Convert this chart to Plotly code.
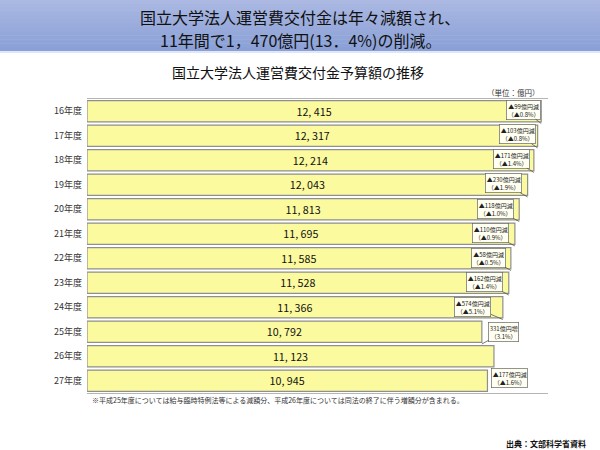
"""National university operating grant budget, FY16-FY27 (recreated with plotly)."""
import plotly.graph_objects as go

# ---- data -------------------------------------------------------------
years = ["16年度", "17年度", "18年度", "19年度", "20年度", "21年度",
         "22年度", "23年度", "24年度", "25年度", "26年度", "27年度"]
budget = [12415, 12317, 12214, 12043, 11813, 11695,
          11585, 11528, 11366, 10792, 11123, 10945]
# year-on-year change callouts (between consecutive years)
change_amount = ["▲99億円減", "▲103億円減", "▲171億円減", "▲230億円減",
                 "▲118億円減", "▲110億円減", "▲58億円減", "▲162億円減",
                 "▲574億円減", "331億円増", "▲177億円減"]
change_pct = ["（▲0.8%）", "（▲0.8%）", "（▲1.4%）", "（▲1.9%）",
              "（▲1.0%）", "（▲0.9%）", "（▲0.5%）", "（▲1.4%）",
              "（▲5.1%）", "（3.1%）", "（▲1.6%）"]

TITLE_1 = "国立大学法人運営費交付金は年々減額され、"
TITLE_2 = "11年間で1，470億円(13．4%)の削減。"
SUBTITLE = "国立大学法人運営費交付金予算額の推移"
UNIT = "（単位：億円）"
NOTE = ("※平成25年度については給与臨時特例法等による減額分、"
        "平成26年度については同法の終了に伴う増額分が含まれる。")
SOURCE = "出典：文部科学省資料"

FONT = "Noto Sans CJK JP"

# ---- page geometry (pixels) -------------------------------------------
W, H = 600, 450
L, R, T, B = 87, 52, 99, 57


def px(x):
    return (x - L) / (W - L - R)


def py(y):
    return 1 - (y - T) / (H - T - B)


fig = go.Figure()
fig.add_trace(go.Bar(
    x=budget, y=years, orientation="h",
    marker=dict(color="#fbfa9f", line=dict(color="#8f8f8f", width=1.2)),
    text=[f"{v:,}".replace(",", ", ") for v in budget],
    textposition="inside", insidetextanchor="middle",
    textfont=dict(family=FONT, size=14, color="#111"),
    hoverinfo="skip", showlegend=False,
))

# callout offsets (box centre relative to arrow tip, px)
offsets = [(-18, -14), (-20, -14), (-22, -14), (-24, -14), (-24, -13),
           (-24, -13), (-22, -13), (-24, -13), (-30, -13), (22, -12),
           (16, 9)]

annotations = []
for i, (amount, pct) in enumerate(zip(change_amount, change_pct)):
    ax, ay = offsets[i]
    annotations.append(dict(
        x=budget[i], y=i + 0.5, xref="x", yref="y",
        text=f"{amount}<br>{pct}", showarrow=True, arrowhead=0,
        arrowwidth=0.8, arrowcolor="#555", ax=ax, ay=ay,
        font=dict(family=FONT, size=6, color="#222"),
        bgcolor="#fffff2", bordercolor="#666", borderwidth=0.7, borderpad=1,
    ))

text_items = [
    (TITLE_1, 300, 17, 16, "center", "#111"),
    (TITLE_2, 300, 40, 16, "center", "#111"),
    (SUBTITLE, 298, 72, 14, "center", "#111"),
    (UNIT, 542, 92, 7.5, "right", "#333"),
    (NOTE, 90, 400, 7, "left", "#333"),
]
for text, x, y, size, anchor, color in text_items:
    annotations.append(dict(
        x=px(x), y=py(y), xref="paper", yref="paper", text=text,
        showarrow=False, xanchor=anchor, yanchor="middle",
        font=dict(family=FONT, size=size, color=color),
    ))
annotations.append(dict(
    x=px(588), y=py(443), xref="paper", yref="paper", text=f"<b>{SOURCE}</b>",
    showarrow=False, xanchor="right", yanchor="middle",
    font=dict(family=FONT, size=8, color="#111"),
))

# blue header band, faked gradient with stripes
shapes = []
top_rgb, bottom_rgb = (170, 184, 226), (138, 160, 214)
steps = 13
for k in range(steps):
    f = k / (steps - 1)
    rgb = tuple(round(a + (b - a) * f) for a, b in zip(top_rgb, bottom_rgb))
    y0 = 51 * k / steps
    y1 = 51 * (k + 1) / steps
    shapes.append(dict(
        type="rect", xref="paper", yref="paper", layer="below",
        x0=px(0), x1=px(W), y0=py(y1 + 0.5), y1=py(y0),
        fillcolor=f"rgb{rgb}", line=dict(width=0),
    ))
shapes.append(dict(
    type="rect", xref="paper", yref="paper", layer="below",
    x0=px(0), x1=px(W), y0=py(53), y1=py(51),
    fillcolor="#dfe6f6", line=dict(width=0),
))

fig.update_layout(
    width=W, height=H,
    margin=dict(l=L, r=R, t=T, b=B),
    paper_bgcolor="white", plot_bgcolor="white",
    bargap=0.13,
    annotations=annotations, shapes=shapes,
    font=dict(family=FONT),
)
fig.update_xaxes(
    range=[0, 12600], visible=True, showticklabels=False, ticks="",
    showgrid=False, zeroline=False,
    showline=True, mirror=True, linecolor="#b5b5b5", linewidth=1,
)
fig.update_yaxes(
    autorange="reversed", showgrid=False, zeroline=False, ticks="",
    tickfont=dict(family=FONT, size=9, color="#333"),
    ticklabelstandoff=4,
    showline=False,
)

# drop the browser's default 8px body margin so the figure fills the window
fig.write_html(
    "out.html",
    config={"displayModeBar": False},
    post_script="document.body.style.margin='0';",
)
